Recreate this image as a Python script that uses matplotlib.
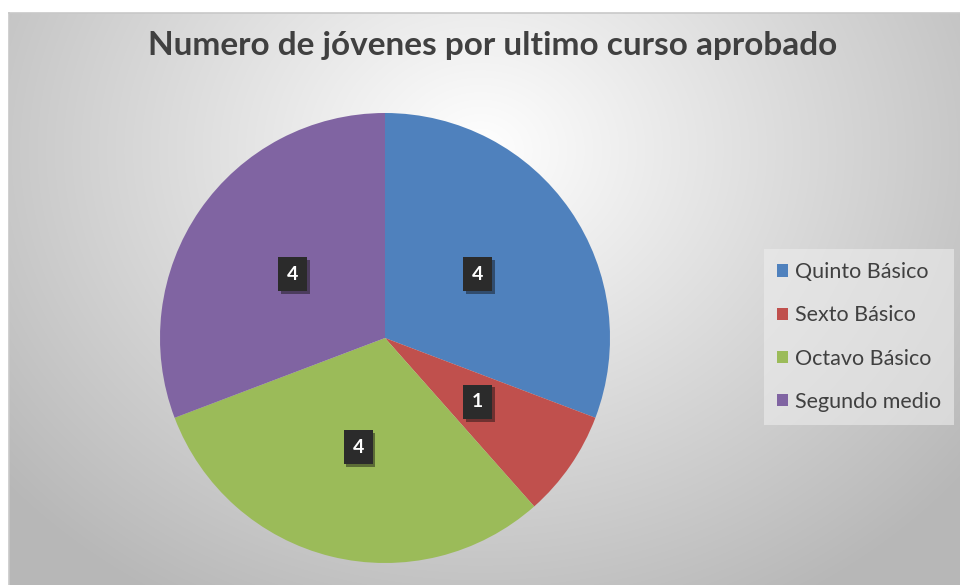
import numpy as np
import matplotlib.pyplot as plt
from matplotlib.patches import Patch
import matplotlib.patheffects as pe

plt.rcParams["font.family"] = ["Lato", "DejaVu Sans"]

categories = ["Quinto Básico", "Sexto Básico", "Octavo Básico", "Segundo medio"]
values = [4, 1, 4, 4]
colors = ["#4F81BD", "#C0504D", "#9BBB59", "#8064A2"]
title = "Numero de jóvenes por ultimo curso aprobado"

W, H = 960, 585
fig = plt.figure(figsize=(W / 100, H / 100), dpi=100)

# background: white margin, then radial grey gradient chart area
bg = fig.add_axes([0, 0, 1, 1])
bg.set_xlim(0, W)
bg.set_ylim(H, 0)
bg.axis("off")
x0, y0 = 9, 13
yy, xx = np.mgrid[y0:H, x0:W]
d = np.sqrt(((xx - 480) / 620.0) ** 2 + ((yy - 150) / 520.0) ** 2)
g = np.clip(1.0 - 0.28 * d, 0.72, 1.0)
img = np.dstack([g, g, g])
bg.imshow(img, extent=(x0, W, H, y0), interpolation="bilinear", zorder=0)
bg.plot([x0, W], [y0, y0], color="#c8c8c8", lw=1.2, zorder=1)
bg.plot([x0, x0], [y0, H], color="#c8c8c8", lw=1.2, zorder=1)

fig.text(0.513, 1 - 46 / H, title, ha="center", va="center",
         fontsize=24, fontweight="bold", color="#404040")

# pie
cx, cy, r = 385, 338, 225
ax = fig.add_axes([(cx - r) / W, (H - cy - r) / H, 2 * r / W, 2 * r / H])
wedges, texts, autotexts = ax.pie(
    values, colors=colors, startangle=90, counterclock=False,
    autopct=lambda p: "%d" % round(p * sum(values) / 100.0),
    pctdistance=0.5, wedgeprops=dict(linewidth=0),
)
ax.set_xlim(-1, 1)
ax.set_ylim(-1, 1)
for t in autotexts:
    t.set_color("white")
    t.set_fontsize(14)
    t.set_fontweight("bold")
    t.set_bbox(dict(boxstyle="square,pad=0.45", facecolor="#2b2b2b", edgecolor="none"))
    t.get_bbox_patch().set_path_effects(
        [pe.SimplePatchShadow(offset=(2, -2), alpha=0.45), pe.Normal()])

handles = [Patch(facecolor=c, edgecolor="none") for c in colors]
leg = fig.legend(handles, categories, loc="center left",
                 bbox_to_anchor=(764 / W, 1 - 337 / H),
                 fontsize=15.5, labelspacing=1.08, handlelength=0.5,
                 handleheight=0.5, handletextpad=0.35, borderpad=0.6,
                 borderaxespad=0, frameon=True, fancybox=False)
leg.get_frame().set_facecolor("#ededed")
leg.get_frame().set_edgecolor("none")
leg.get_frame().set_alpha(0.6)
for t in leg.get_texts():
    t.set_color("#404040")

fig.savefig("out.png", dpi=100)
